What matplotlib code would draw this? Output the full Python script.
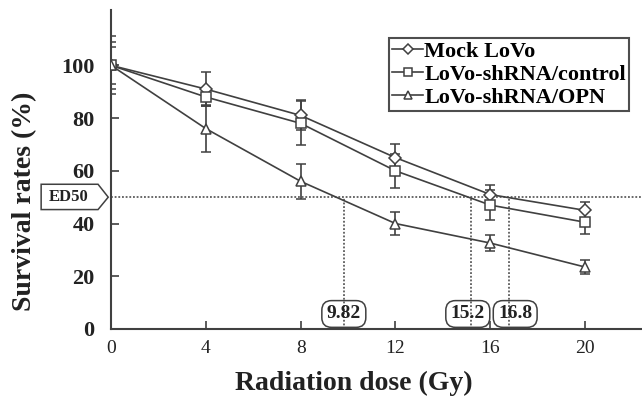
import matplotlib
matplotlib.use("Agg")
import matplotlib.pyplot as plt
from matplotlib.patches import Polygon
from matplotlib.lines import Line2D

# Survival data after irradiation
dose = [0, 4, 8, 12, 16, 20]
mock = [100, 91, 81, 65, 51, 45]
mock_err = [9, 6.5, 5.7, 5, 3.5, 3]
ctrl = [100, 88, 78, 60, 47, 40.5]
ctrl_err = [7, 3.5, 8.3, 6.4, 5.7, 4.5]
opn = [100, 76, 56, 40, 32.6, 23.5]
opn_err = [11, 9, 6.5, 4.5, 3.2, 2.5]

series_names = ["Mock LoVo", "LoVo-shRNA/control", "LoVo-shRNA/OPN"]
ed50_level = 50
ed50_doses = [9.82, 15.2, 16.8]
ed50_labels = ["9.82", "15.2", "16.8"]
xticks = [0, 4, 8, 12, 16, 20]
yticks = [0, 20, 40, 60, 80, 100]

plt.rcParams["font.family"] = ["Liberation Serif", "DejaVu Serif"]

fig = plt.figure(figsize=(6.42, 4.0), dpi=100)
ax = fig.add_axes([0.173, 0.1775, 0.827, 0.7975])

col = "#404040"
markers = ["D", "s", "^"]
sizes = [6, 7, 7]
for y, e, m, ms in zip([mock, ctrl, opn], [mock_err, ctrl_err, opn_err], markers, sizes):
    ax.errorbar(dose, y, yerr=e, color=col, lw=1.2, marker=m, ms=ms,
                mfc="white", mec=col, mew=1.1, capsize=3.5,
                elinewidth=1.2, capthick=1.2, zorder=3)

# ED50 guide lines
ax.axhline(ed50_level, color=col, ls=(0, (1.2, 1.2)), lw=1.1, zorder=2)
for d in ed50_doses:
    ax.plot([d, d], [0, ed50_level], color=col, ls=(0, (1.2, 1.2)), lw=1.1, zorder=2)

# value tags along the dose axis; the last one nudged so the boxes sit side by side
label_shift = [0.0, -0.15, 0.25]
for d, lab, sh in zip(ed50_doses, ed50_labels, label_shift):
    ax.text(d + sh, 5.7, lab, ha="center", va="center", fontsize=14, fontweight="bold",
            color="#222222", zorder=4,
            bbox=dict(boxstyle="round,pad=0.25,rounding_size=0.5", fc="none",
                      ec=col, lw=1.1))

# ED50 pointer tag on the left of the y axis
tag = Polygon([(-2.95, 45.3), (-0.55, 45.3), (-0.12, 50), (-0.55, 54.9), (-2.95, 54.9)],
              closed=True, fc="white", ec=col, lw=1.1, clip_on=False, zorder=5)
ax.add_patch(tag)
ax.text(-1.8, 50, "ED50", ha="center", va="center", fontsize=12,
        fontweight="bold", color="#222222", clip_on=False, zorder=6)

ax.set_xlim(0, 22.4)
ax.set_ylim(0, 121)
ax.set_xticks(xticks)
ax.set_yticks(yticks)
ax.tick_params(direction="in", length=6, width=1.2, color=col,
               labelcolor="#222222")
ax.tick_params(axis="x", pad=8, labelsize=14)
ax.tick_params(axis="y", pad=12, labelsize=16)
for lab in ax.get_yticklabels():
    lab.set_fontweight("bold")

for s in ["top", "right"]:
    ax.spines[s].set_visible(False)
for s in ["left", "bottom"]:
    ax.spines[s].set_color(col)
    ax.spines[s].set_linewidth(1.5)

ax.set_xlabel("Radiation dose (Gy)", fontsize=20, fontweight="bold", color="#222222")
ax.set_ylabel("Survival rates (%)", fontsize=20, fontweight="bold", color="#222222")
ax.xaxis.set_label_coords(0.458, -0.17)
ax.yaxis.set_label_coords(-0.162, 0.40)
ax.xaxis.label.set_va("center")
ax.yaxis.label.set_va("center")

handles = [Line2D([], [], color=col, lw=1.2, marker=m, ms=ms - 1, mfc="white",
                  mec=col, mew=1.1) for m, ms in zip(markers, sizes)]
leg = ax.legend(handles, series_names, loc="upper right",
                bbox_to_anchor=(0.976, 0.912), frameon=True,
                fancybox=False, edgecolor="#222222", handlelength=1.4,
                handletextpad=0.05, borderpad=0.15, labelspacing=0.1,
                borderaxespad=0,
                prop=dict(family="Liberation Serif", weight="bold", size=16))
leg.get_frame().set_linewidth(1.5)

fig.savefig("out.png", dpi=100)
